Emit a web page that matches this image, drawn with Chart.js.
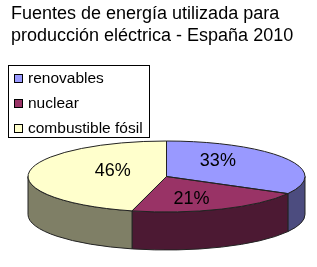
<!DOCTYPE html>
<html>
<head>
<meta charset="utf-8">
<script src="https://cdn.jsdelivr.net/npm/chart.js@4.4.1/dist/chart.umd.min.js"></script>
<style>
  html, body { margin: 0; padding: 0; background: #fff; }
  #wrap { width: 317px; height: 267px; }
</style>
</head>
<body>
<div id="wrap"><canvas id="grafica"></canvas></div>
<script>
// Datos
var categorias = ['renovables', 'nuclear', 'combustible fósil'];
var valores = [33, 21, 46];
var colores = ['#9999FF', '#993366', '#FFFFCC'];
var coloresLado = ['#4C4C7F', '#4C1933', '#7F7F66'];
var titulo = ['Fuentes de energía utilizada para', 'producción eléctrica - España 2010'];

var FUENTE = '"Liberation Sans", Arial, sans-serif';

// Proyección 3D de la tarta (elipse + grosor)
var ELIPSE = { cx: 166.5, cy: 176.5, rx: 138.5, ry: 35.5, fondo: 38 };

function geometria(chart) {
    var arco = chart.getDatasetMeta(0).data[0];
    return {
        x: arco.x, y: arco.y, r: arco.outerRadius,
        sx: ELIPSE.rx / arco.outerRadius,
        sy: ELIPSE.ry / arco.outerRadius
    };
}

var tarta3d = {
    id: 'tarta3d',
    beforeDatasetsDraw: function(chart) {
        var ctx = chart.ctx;
        var meta = chart.getDatasetMeta(0);
        var g = geometria(chart);
        // paredes frontales
        meta.data.forEach(function(arco, i) {
            var s = arco.startAngle, e = arco.endAngle;
            [0, 2 * Math.PI].forEach(function(off) {
                var a1 = Math.max(s, off), a2 = Math.min(e, off + Math.PI);
                if (a2 <= a1) return;
                ctx.save();
                ctx.beginPath();
                ctx.ellipse(ELIPSE.cx, ELIPSE.cy, ELIPSE.rx, ELIPSE.ry, 0, a1, a2);
                ctx.ellipse(ELIPSE.cx, ELIPSE.cy + ELIPSE.fondo, ELIPSE.rx, ELIPSE.ry, 0, a2, a1, true);
                ctx.closePath();
                ctx.fillStyle = coloresLado[i];
                ctx.fill();
                ctx.lineWidth = 1;
                ctx.strokeStyle = '#222';
                ctx.stroke();
                ctx.restore();
            });
        });
        // aplastar la cara superior
        ctx.save();
        ctx.translate(ELIPSE.cx, ELIPSE.cy);
        ctx.scale(g.sx, g.sy);
        ctx.translate(-g.x, -g.y);
    },
    afterDatasetsDraw: function(chart) {
        var ctx = chart.ctx;
        var meta = chart.getDatasetMeta(0);
        // contornos de la cara superior
        meta.data.forEach(function(arco) {
            ctx.beginPath();
            ctx.moveTo(arco.x, arco.y);
            ctx.arc(arco.x, arco.y, arco.outerRadius, arco.startAngle, arco.endAngle);
            ctx.closePath();
            ctx.save();
            ctx.setTransform(1, 0, 0, 1, 0, 0);
            ctx.lineWidth = 1;
            ctx.strokeStyle = '#222';
            ctx.stroke();
            ctx.restore();
        });
        ctx.restore();
        // etiquetas de porcentaje
        var total = valores.reduce(function(a, b) { return a + b; }, 0);
        ctx.save();
        ctx.font = '18px ' + FUENTE;
        ctx.fillStyle = '#000';
        ctx.textAlign = 'center';
        ctx.textBaseline = 'middle';
        meta.data.forEach(function(arco, i) {
            var m = (arco.startAngle + arco.endAngle) / 2;
            var x = ELIPSE.cx + 2.5 + ELIPSE.rx * 0.41 * Math.cos(m);
            var y = ELIPSE.cy - 1.8 + ELIPSE.ry * 0.75 * Math.sin(m);
            ctx.fillText(Math.round(valores[i] / total * 100) + '%', x, y);
        });
        ctx.restore();
    },
    afterDraw: function(chart) {
        // leyenda con marco
        var ctx = chart.ctx;
        ctx.save();
        ctx.strokeStyle = '#000';
        ctx.lineWidth = 1;
        ctx.strokeRect(8.5, 65.5, 141, 72);
        ctx.font = '15.5px ' + FUENTE;
        ctx.textBaseline = 'middle';
        categorias.forEach(function(nombre, i) {
            var y = 79 + i * 25;
            ctx.fillStyle = colores[i];
            ctx.fillRect(14.5, y - 4.5, 8, 8);
            ctx.strokeRect(14.5, y - 4.5, 8, 8);
            ctx.fillStyle = '#000';
            ctx.fillText(nombre, 28, y);
        });
        ctx.restore();
    }
};

var ctxTarta = document.getElementById('grafica').getContext('2d');
var grafica = new Chart(ctxTarta, {
    type: 'pie',
    data: {
        labels: categorias,
        datasets: [{
            data: valores,
            backgroundColor: colores,
            borderWidth: 0
        }]
    },
    options: {
        responsive: true,
        maintainAspectRatio: false,
        animation: false,
        events: [],
        layout: { padding: { left: 11, right: 10, top: 0, bottom: 10 } },
        plugins: {
            legend: { display: false },
            tooltip: { enabled: false },
            title: {
                display: true,
                text: titulo,
                align: 'start',
                color: '#000',
                font: { family: FUENTE, size: 18, weight: 'normal', lineHeight: 1.22 },
                padding: { top: 3, bottom: 10 }
            }
        }
    },
    plugins: [tarta3d]
});
</script>
</body>
</html>
